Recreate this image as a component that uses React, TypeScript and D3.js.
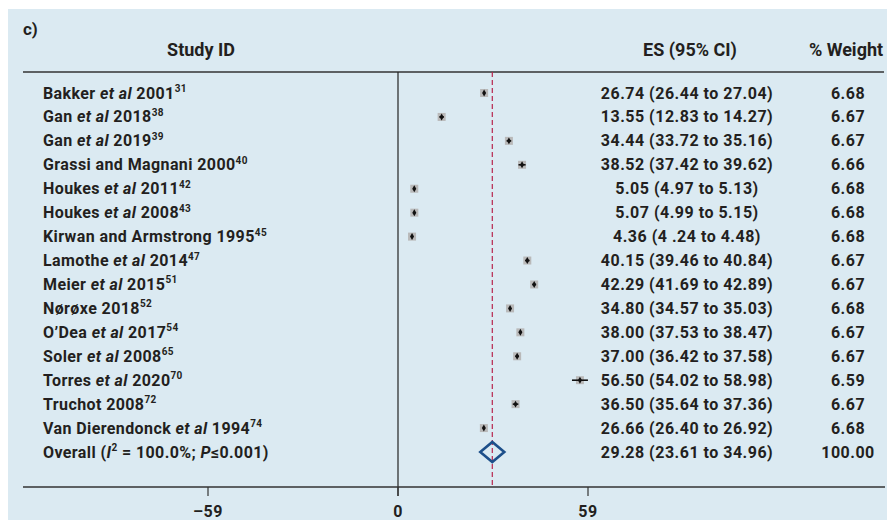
import { useEffect } from 'react'
import * as d3 from 'd3'

// study rows
const authors = [
  'Bakker', 'Gan', 'Gan', 'Grassi and Magnani', 'Houkes', 'Houkes', 'Kirwan and Armstrong',
  'Lamothe', 'Meier', 'Nørøxe', 'O’Dea', 'Soler', 'Torres', 'Truchot', 'Van Dierendonck',
]
const etAl = [true, true, true, false, true, true, false, true, true, false, true, true, true, false, true]
const years = [2001, 2018, 2019, 2000, 2011, 2008, 1995, 2014, 2015, 2018, 2017, 2008, 2020, 2008, 1994]
const refs = [31, 38, 39, 40, 42, 43, 45, 47, 51, 52, 54, 65, 70, 72, 74]
const es = [26.74, 13.55, 34.44, 38.52, 5.05, 5.07, 4.36, 40.15, 42.29, 34.8, 38.0, 37.0, 56.5, 36.5, 26.66]
const lo = [26.44, 12.83, 33.72, 37.42, 4.97, 4.99, 4.24, 39.46, 41.69, 34.57, 37.53, 36.42, 54.02, 35.64, 26.4]
const hi = [27.04, 14.27, 35.16, 39.62, 5.13, 5.15, 4.48, 40.84, 42.89, 35.03, 38.47, 37.58, 58.98, 37.36, 26.92]
const weights = [6.68, 6.67, 6.67, 6.66, 6.68, 6.68, 6.68, 6.67, 6.67, 6.68, 6.67, 6.67, 6.59, 6.67, 6.68]
const ciText = [
  '26.74 (26.44 to 27.04)', '13.55 (12.83 to 14.27)', '34.44 (33.72 to 35.16)', '38.52 (37.42  to 39.62)',
  '5.05 (4.97 to 5.13)', '5.07 (4.99 to 5.15)', '4.36 (4 .24 to 4.48)', '40.15 (39.46 to 40.84)',
  '42.29 (41.69 to 42.89)', '34.80 (34.57 to 35.03)', '38.00 (37.53 to 38.47)', '37.00 (36.42 to 37.58)',
  '56.50 (54.02 to 58.98)', '36.50 (35.64 to 37.36)', '26.66 (26.40 to 26.92)',
]

// pooled estimate
const overallES = 29.28
const overallText = '29.28 (23.61 to 34.96)'
const overallWeight = '100.00'

const ticks = [-59, 0, 59]

const ink = '#231f20'
const font = 'Roboto, sans-serif'

export default function App() {
  useEffect(() => {
    document.documentElement.style.overflow = 'hidden'
    document.body.style.overflow = 'hidden'
  }, [])

  const x = d3.scaleLinear().domain([-59, 59]).range([208, 588])
  const y = d3.scalePoint<number>().domain(d3.range(authors.length + 1)).range([93, 452])
  const side = d3.scaleSqrt().domain([0, d3.max(weights)!]).range([0, 8])
  const dot = d3.symbol().type(d3.symbolDiamond).size(14)()
  const overallY = y(authors.length)!
  const num = { letterSpacing: 0.5 }
  const lab = { letterSpacing: 0.4 }

  return (
    <svg width={887} height={512} viewBox="8 8 887 512" style={{ display: 'block' }}
      fontFamily={font} fontWeight={700} fontSize={16} fill={ink}>
      <rect x={8} y={9} width={887} height={511} fill="#dbeaf2" />

      <text x={23} y={35} fontSize={17}>c)</text>
      <g fontSize={18}>
        <text x={201} y={56} textAnchor="middle">Study ID</text>
        <text x={690} y={56} textAnchor="middle">ES (95% CI)</text>
        <text x={846} y={56} textAnchor="middle">% Weight</text>
      </g>
      <line x1={23} x2={884} y1={72} y2={72} stroke="#333" strokeWidth={1.5} />

      {/* null line and pooled line */}
      <line x1={x(0)} x2={x(0)} y1={72} y2={496} stroke="#222" strokeWidth={1.2} />
      <line x1={x(overallES)} x2={x(overallES)} y1={72} y2={486} stroke="#b8254d"
        strokeWidth={1.2} strokeDasharray="5,3" />

      {authors.map((a, i) => {
        const yy = y(i)!
        const s = side(weights[i])
        return (
          <g key={i}>
            <text x={43} y={yy + 5.5} style={lab}>
              {a}
              {etAl[i] && <tspan fontStyle="italic"> et al</tspan>}
              {' ' + years[i]}
              <tspan fontSize={10} dy={-6.5}>{refs[i]}</tspan>
            </text>
            <rect x={x(es[i]) - s / 2} y={yy - s / 2} width={s} height={s} fill="#b9b9b9" />
            <line x1={x(lo[i])} x2={x(hi[i])} y1={yy} y2={yy} stroke="#111" strokeWidth={1.6} />
            <path d={dot!} transform={`translate(${x(es[i])},${yy})`} fill="#111" />
            <text x={687} y={yy + 5.5} textAnchor="middle" style={num}>{ciText[i]}</text>
            <text x={848} y={yy + 5.5} textAnchor="middle" style={num}>{weights[i].toFixed(2)}</text>
          </g>
        )
      })}

      <text x={43} y={overallY + 5.5} style={lab}>
        Overall (<tspan fontStyle="italic">I</tspan>
        <tspan fontSize={10} dy={-6.5}>2</tspan>
        <tspan dy={6.5}> = 100.0%; </tspan>
        <tspan fontStyle="italic">P</tspan>≤0.001)
      </text>
      <path
        d={`M${x(overallES) - 12},${overallY} L${x(overallES)},${overallY - 10} L${x(overallES) + 12},${overallY} L${x(overallES)},${overallY + 10} Z`}
        fill="none" stroke="#1d4f8a" strokeWidth={2.6} />
      <text x={687} y={overallY + 5.5} textAnchor="middle" style={num}>{overallText}</text>
      <text x={848} y={overallY + 5.5} textAnchor="middle" style={num}>{overallWeight}</text>

      {/* axis */}
      <line x1={23} x2={885} y1={487} y2={487} stroke="#333" strokeWidth={1.5} />
      {ticks.map(t => (
        <g key={t}>
          <line x1={x(t)} x2={x(t)} y1={487} y2={496} stroke="#333" strokeWidth={1.2} />
          <text x={x(t)} y={517} textAnchor="middle" style={num}>{t < 0 ? '–' + Math.abs(t) : String(t)}</text>
        </g>
      ))}
    </svg>
  )
}
